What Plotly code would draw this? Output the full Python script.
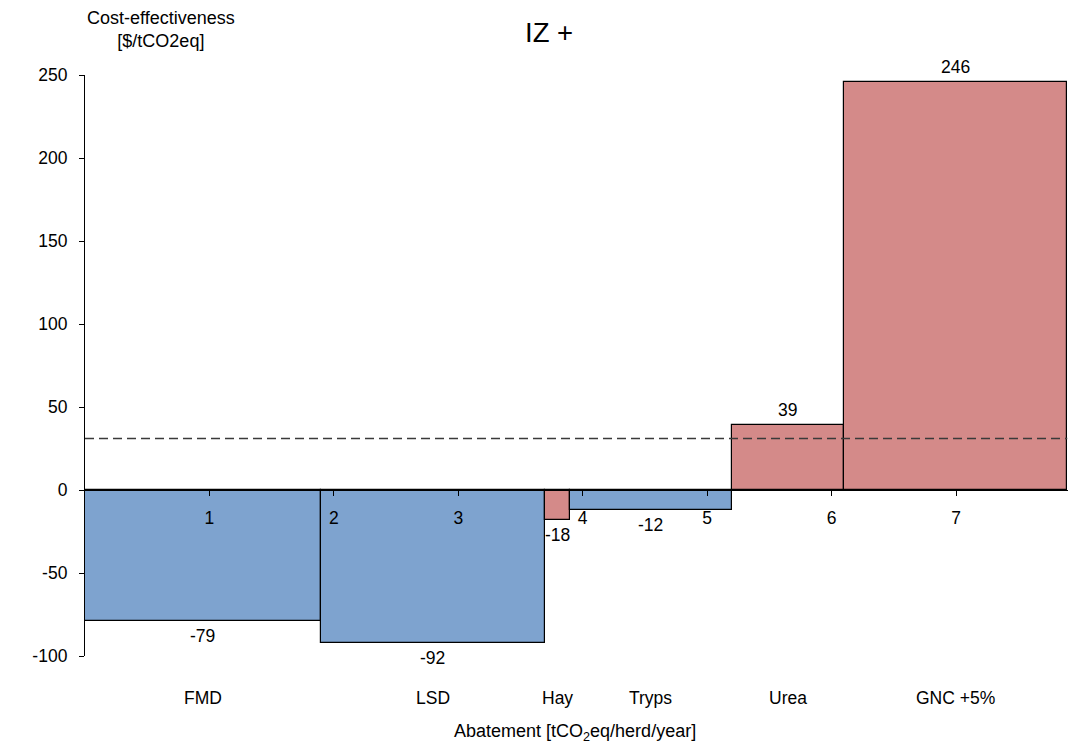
import plotly.graph_objects as go

categories = ["FMD", "LSD", "Hay", "Tryps", "Urea", "GNC +5%"]
abatement = [1.894, 1.803, 0.200, 1.301, 0.902, 1.794]
cost = [-79, -92, -18, -12, 39, 246]
bar_group = ["health", "health", "feed", "health", "feed", "feed"]
threshold = 31
x_ticks = [1, 2, 3, 4, 5, 6, 7]
y_ticks = [-100, -50, 0, 50, 100, 150, 200, 250]

GROUP_COLORS = {"health": "#7EA3CF", "feed": "#D48A89"}
FONT = "Liberation Sans, Arial, sans-serif"
FS = 17.5

starts, centers = [], []
acc = 0.0
for w in abatement:
    starts.append(acc)
    centers.append(acc + w / 2)
    acc += w
total = acc

colors = [GROUP_COLORS[g] for g in bar_group]

fig = go.Figure()
fig.add_trace(go.Bar(
    x=centers, y=cost, width=abatement, base=0,
    marker=dict(color=colors, line=dict(color="black", width=1.2)),
    hoverinfo="skip", showlegend=False,
))
fig.add_trace(go.Scatter(
    x=[0, total], y=[threshold, threshold], mode="lines",
    line=dict(color="#3a3a3a", width=1.5, dash="9px,5px"),
    hoverinfo="skip", showlegend=False,
))

ymin, ymax = -100, 250
xmax = 7.9
PLOT_H = 749 - 75 - 93


def py(pix):
    """paper y for a pixel row of the figure"""
    return (749 - 93 - pix) / PLOT_H


# value labels
for c, v in zip(centers, cost):
    fig.add_annotation(x=c, y=v, xref="x", yref="y", text=str(v), showarrow=False,
                       yshift=15 if v > 0 else -15, font=dict(size=FS, color="black", family=FONT))
# category labels
for c, name in zip(centers, categories):
    fig.add_annotation(x=c, y=py(698), xref="x", yref="paper", text=name, showarrow=False,
                       yanchor="middle", font=dict(size=FS, color="black", family=FONT))

fig.add_annotation(x=0.4985, xref="paper", y=py(732), yref="paper", yanchor="middle",
                   text="Abatement [tCO<sub>2</sub>eq/herd/year]", showarrow=False,
                   font=dict(size=18, color="black", family=FONT))
fig.add_annotation(x=0, xref="paper", y=py(29), yref="paper", yanchor="middle",
                   text="Cost-effectiveness<br>[$/tCO2eq]", showarrow=False,
                   font=dict(size=18, color="black", family=FONT))
fig.add_annotation(x=(549 - 85) / 983, xref="paper", y=py(33), yref="paper", yanchor="middle",
                   text="IZ +", showarrow=False,
                   font=dict(size=27.5, color="black", family=FONT))

fig.update_layout(
    width=1070, height=749,
    margin=dict(l=85, r=2, t=75, b=93, autoexpand=False),
    plot_bgcolor="white", paper_bgcolor="white",
    font=dict(family=FONT, size=FS, color="black"),
    bargap=0,
    xaxis=dict(
        range=[0, xmax], tickvals=x_ticks, ticktext=[str(t) for t in x_ticks],
        showgrid=False, zeroline=False, showline=True, linecolor="black", linewidth=1.2,
        ticks="outside", ticklen=5, tickcolor="black", tickwidth=1.2,
        anchor="free", position=(0 - ymin) / (ymax - ymin),
        ticklabelstandoff=7, automargin=False,
        tickfont=dict(size=FS, family=FONT, color="black"),
    ),
    yaxis=dict(
        range=[ymin, ymax], tickvals=y_ticks, ticktext=[str(t) for t in y_ticks],
        showgrid=False, zeroline=False, showline=True, linecolor="black", linewidth=1.2,
        ticks="outside", ticklen=5, tickcolor="black", tickwidth=1.2,
        ticklabelstandoff=8, automargin=False,
        tickfont=dict(size=FS, family=FONT, color="black"),
    ),
)

fig.write_html(
    "out.html",
    config={"displayModeBar": False},
    post_script="document.body.style.margin='0';document.body.style.overflow='hidden';",
)
